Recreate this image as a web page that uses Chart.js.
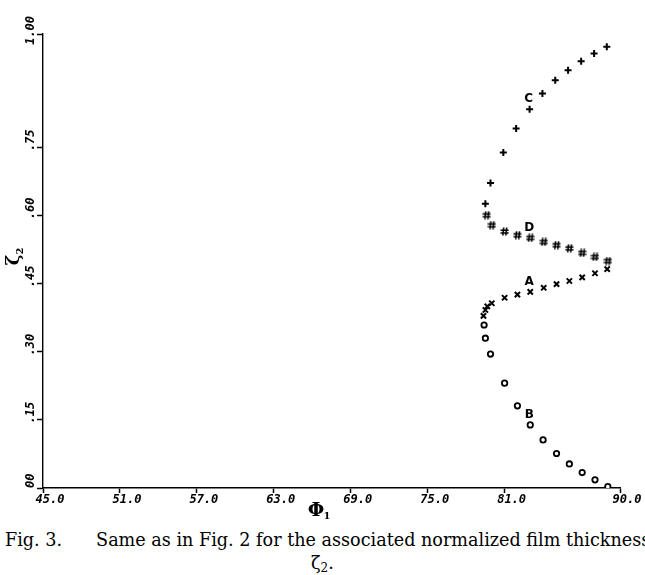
<!DOCTYPE html>
<html>
<head>
<meta charset="utf-8">
<script src="https://cdn.jsdelivr.net/npm/chart.js@4.4.1/dist/chart.umd.min.js"></script>
<style>
  html, body { margin: 0; padding: 0; background: #fff; width: 645px; height: 575px; overflow: hidden; }
  #wrap { position: absolute; left: 0; top: 0; width: 645px; height: 520px; }
  .cap { position: absolute; white-space: nowrap; font-family: "DejaVu Serif", serif; color: #000; line-height: 1; }
  #cap1 { left: 5px; top: 532px; font-size: 17.6px; }
  #cap1 .body { padding-left: 34px; }
  #cap2 { left: 311px; top: 555px; font-size: 17.6px; }
  #cap2 sub { font-size: 12px; vertical-align: -3px; }
</style>
</head>
<body>
<div id="wrap"><canvas id="chart" width="645" height="520"></canvas></div>
<div class="cap" id="cap1">Fig. 3.<span class="body">Same as in Fig. 2 for the associated normalized film thickness</span></div>
<div class="cap" id="cap2">ζ<sub>2</sub>.</div>
<script>
// Axis ticks and their printed labels
const X_TICKS = [45, 51, 57, 63, 69, 75, 81, 90];
const X_TICK_LABELS = ['45.0', '51.0', '57.0', '63.0', '69.0', '75.0', '81.0', '90.0'];
const Y_TICKS = [0, 0.15, 0.30, 0.45, 0.60, 0.75, 1.00];
const Y_TICK_LABELS = ['00', '.15', '.30', '.45', '.60', '.75', '1.00'];

// Branch C (+)
const phiC  = [79.5, 79.9, 80.9, 81.9, 82.95, 83.95, 84.95, 85.95, 86.97, 87.98, 88.97];
const zetaC = [0.626, 0.672, 0.739, 0.792, 0.834, 0.869, 0.898, 0.920, 0.940, 0.957, 0.972];

// Branch D (#)
const phiD  = [79.6, 80.0, 81.0, 82.0, 83.0, 84.05, 85.05, 86.05, 87.05, 88.05, 89.05];
const zetaD = [0.601, 0.579, 0.565, 0.557, 0.551, 0.542, 0.535, 0.528, 0.518, 0.509, 0.500];

// Branch A (x)
const phiA  = [79.35, 79.5, 79.65, 80.0, 81.0, 82.0, 83.0, 84.05, 85.05, 86.05, 87.05, 88.05, 89.0];
const zetaA = [0.379, 0.392, 0.400, 0.407, 0.419, 0.426, 0.432, 0.441, 0.449, 0.456, 0.464, 0.473, 0.482];

// Branch B (o)
const phiB  = [79.4, 79.5, 79.9, 81.0, 82.0, 83.0, 84.0, 85.05, 86.05, 87.05, 88.05, 89.05];
const zetaB = [0.359, 0.330, 0.295, 0.231, 0.181, 0.139, 0.106, 0.076, 0.053, 0.034, 0.018, 0.003];

// Branch letters, placed above the point at this angle
const BRANCH_NAMES = ['C', 'D', 'A', 'B'];
const LABEL_PHI = 83;

const pts = (xs, ys) => xs.map((x, i) => ({ x: x, y: ys[i] }));

// '#' marker
function hashMarker() {
  const c = document.createElement('canvas');
  c.width = 9; c.height = 9;
  const g = c.getContext('2d');
  g.strokeStyle = '#000';
  g.lineWidth = 1.6;
  g.beginPath();
  g.moveTo(3.6, 0.5); g.lineTo(2.8, 8.5);
  g.moveTo(6.6, 0.5); g.lineTo(5.8, 8.5);
  g.moveTo(0.5, 3.2); g.lineTo(8.5, 3.2);
  g.moveTo(0.5, 6.0); g.lineTo(8.5, 6.0);
  g.stroke();
  return c;
}

const annotate = {
  id: 'annotate',
  afterDatasetsDraw(chart) {
    const ctx = chart.ctx;
    const ys = chart.scales.y;
    ctx.save();
    ctx.fillStyle = '#000';

    // branch letters
    ctx.font = 'bold 12px "DejaVu Sans", sans-serif';
    ctx.textAlign = 'center';
    ctx.textBaseline = 'middle';
    chart.data.datasets.forEach((ds, i) => {
      const meta = chart.getDatasetMeta(i);
      let best = 0, bd = 1e9;
      ds.data.forEach((p, j) => { const d = Math.abs(p.x - LABEL_PHI); if (d < bd) { bd = d; best = j; } });
      const el = meta.data[best];
      ctx.fillText(BRANCH_NAMES[i], el.x - 1, el.y - 10);
    });

    // rotated y tick labels, decimal point on the tick
    ctx.font = 'italic bold 12px "DejaVu Sans Mono", monospace';
    const cw = ctx.measureText('0').width;
    ctx.textAlign = 'left';
    ctx.textBaseline = 'middle';
    Y_TICKS.forEach((v, i) => {
      const lab = Y_TICK_LABELS[i];
      const dot = lab.indexOf('.');
      const off = dot >= 0 ? (dot + 0.5) * cw : 0;
      const py = ys.getPixelForValue(v);
      ctx.save();
      ctx.translate(31, py + off);
      ctx.rotate(-Math.PI / 2);
      ctx.fillText(lab, 0, 0);
      ctx.restore();
    });

    // axis titles
    ctx.textAlign = 'center';
    ctx.textBaseline = 'alphabetic';
    ctx.font = 'bold 19px "DejaVu Serif", serif';
    ctx.fillText('Φ', 316, 516);
    ctx.font = 'bold 10px "DejaVu Serif", serif';
    ctx.fillText('1', 327, 519);

    ctx.save();
    ctx.translate(14, 260);
    ctx.rotate(-Math.PI / 2);
    ctx.font = 'bold 18px "DejaVu Serif", serif';
    ctx.fillText('ζ', 0, 5);
    ctx.font = 'bold 10px "DejaVu Serif", serif';
    ctx.fillText('2', 9, 9);
    ctx.restore();

    ctx.restore();
  }
};

const axisGrid = (len) => ({
  display: true,
  drawOnChartArea: false,
  drawTicks: true,
  tickLength: len,
  tickColor: '#000',
  tickWidth: 1.5
});

new Chart(document.getElementById('chart'), {
  type: 'scatter',
  data: {
    datasets: [
      { label: 'C', data: pts(phiC, zetaC), pointStyle: 'cross', pointRadius: 3.5, borderWidth: 2, borderColor: '#000', backgroundColor: '#000' },
      { label: 'D', data: pts(phiD, zetaD), pointStyle: hashMarker(), pointRadius: 4.5, borderColor: '#000' },
      { label: 'A', data: pts(phiA, zetaA), pointStyle: 'crossRot', pointRadius: 3.7, borderWidth: 2, borderColor: '#000', backgroundColor: '#000' },
      { label: 'B', data: pts(phiB, zetaB), pointStyle: 'circle', pointRadius: 2.7, borderWidth: 1.8, borderColor: '#000', backgroundColor: '#fff',
        clip: { left: 10, top: 10, right: 10, bottom: 0 } }
    ]
  },
  options: {
    responsive: false,
    animation: false,
    devicePixelRatio: 1,
    layout: { padding: { top: 34, right: 25, left: 0, bottom: 0 } },
    plugins: { legend: { display: false }, tooltip: { enabled: false } },
    scales: {
      x: {
        type: 'linear',
        min: 45, max: 90,
        afterBuildTicks: (s) => { s.ticks = X_TICKS.map(v => ({ value: v })); },
        afterFit: (s) => { s.height = 32; },
        ticks: {
          autoSkip: false, maxRotation: 0, minRotation: 0,
          padding: 0, labelOffset: 7, color: '#000',
          font: { family: '"DejaVu Sans Mono", monospace', size: 12, style: 'italic', weight: 'bold' },
          callback: (v) => X_TICK_LABELS[X_TICKS.indexOf(v)]
        },
        grid: axisGrid(5),
        border: { display: true, color: '#000', width: 1.6 }
      },
      y: {
        type: 'linear',
        min: 0, max: 1,
        afterBuildTicks: (s) => { s.ticks = Y_TICKS.map(v => ({ value: v })); },
        afterFit: (s) => { s.width = 43; },
        ticks: { display: false },
        grid: axisGrid(6),
        border: { display: true, color: '#000', width: 1.4 }
      }
    }
  },
  plugins: [annotate]
});
</script>
</body>
</html>
